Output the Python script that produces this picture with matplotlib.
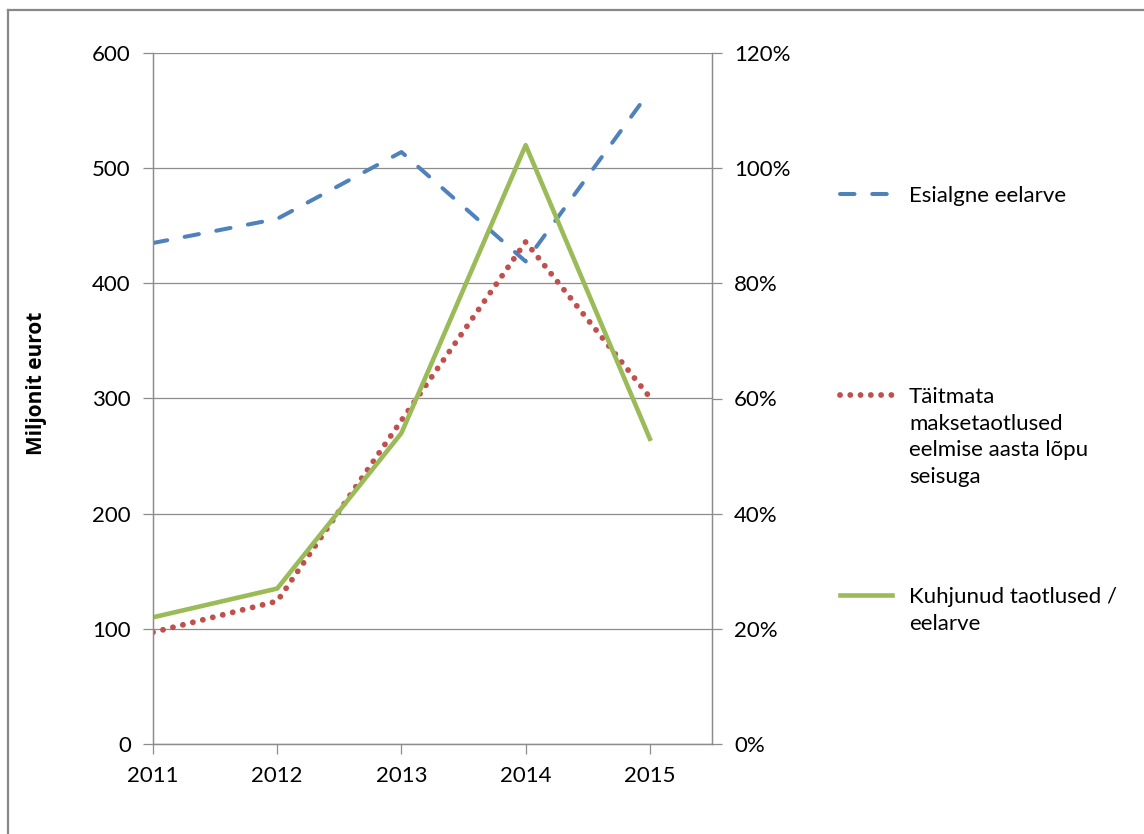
import matplotlib
matplotlib.use("Agg")
from matplotlib import pyplot as plt
from matplotlib.lines import Line2D
import numpy as np

plt.rcParams["font.family"] = ["Lato", "DejaVu Sans"]

years = [2011, 2012, 2013, 2014, 2015]
esialgne = [435, 456, 514, 419, 567]          # Esialgne eelarve, mln eur
taitmata = [97, 124, 281, 436, 301]           # Täitmata maksetaotlused
kuhjunud = [0.22, 0.27, 0.54, 1.04, 0.53]     # Kuhjunud taotlused / eelarve

left_ticks = np.arange(0, 601, 100)
right_ticks = np.arange(0, 1.21, 0.2)
right_labels = ["0%", "20%", "40%", "60%", "80%", "100%", "120%"]

lbl_blue = "Esialgne eelarve"
lbl_red = "Täitmata\nmaksetaotlused\neelmise aasta lõpu\nseisuga"
lbl_green = "Kuhjunud taotlused /\neelarve"

c_blue = "#4F81BD"
c_red = "#C0504D"
c_green = "#9BBB59"
c_grid = "#8C8C8C"

sty_blue = dict(color=c_blue, lw=2.9, dashes=(3.6, 4.4), dash_capstyle="round")
sty_red = dict(color=c_red, lw=4.2, dashes=(0.01, 1.75), dash_capstyle="round")
sty_green = dict(color=c_green, lw=3.3)

fig = plt.figure(figsize=(11.44, 8.34), dpi=100)
ax = fig.add_axes([153 / 1144, 1 - 744 / 834, 559 / 1144, 691 / 834])
ax2 = ax.twinx()

################################################################################
# Jooned
################################################################################

ax.plot(years, esialgne, **sty_blue)
ax.plot(years, taitmata, **sty_red)
ax2.plot(years, kuhjunud, **sty_green)

ax.set_xlim(2011, 2015.5)
ax.set_ylim(0, 600)
ax2.set_ylim(0, 1.2)
ax.set_xticks(years)
ax.set_xticklabels([str(y) for y in years])
ax.set_yticks(left_ticks)
ax2.set_yticks(right_ticks)
ax2.set_yticklabels(right_labels)

ax.grid(True, axis="y", color=c_grid, lw=0.9)
ax.set_axisbelow(True)
for a in (ax, ax2):
    a.spines["top"].set_visible(False)
    for s in ("left", "right", "bottom"):
        a.spines[s].set_color(c_grid)
        a.spines[s].set_linewidth(0.9)
    a.tick_params(colors=c_grid, labelcolor="black", labelsize=16, length=7,
                  width=0.9, pad=9)

ax.set_ylabel("Miljonit eurot", fontsize=15, fontweight="bold",
              family=["Open Sans", "DejaVu Sans"])
ax.yaxis.set_label_coords(-0.19, 0.522)

################################################################################
# Legend (kasitsi, markeer esimese rea kõrgusel)
################################################################################

def fig_xy(px, py):
    return px / 1144, 1 - py / 834

entries = [(sty_blue, lbl_blue, 194), (sty_red, lbl_red, 395),
           (sty_green, lbl_green, 595)]
for sty, label, py in entries:
    x0, y0 = fig_xy(840, py)
    x1, _ = fig_xy(892, py)
    fig.add_artist(Line2D([x0, x1], [y0, y0], transform=fig.transFigure, **sty))
    tx, ty = fig_xy(909, py - 8)
    fig.text(tx, ty, label, fontsize=16, ha="left", va="top", linespacing=1.42)

# diagrammi raam
fig.add_artist(Line2D([8 / 1144, 1], [1 - 10 / 834, 1 - 10 / 834],
                      transform=fig.transFigure, color="#888888", lw=1.6))
fig.add_artist(Line2D([8 / 1144, 8 / 1144], [0, 1 - 10 / 834],
                      transform=fig.transFigure, color="#888888", lw=1.6))

plt.savefig("out.png", dpi=100)
